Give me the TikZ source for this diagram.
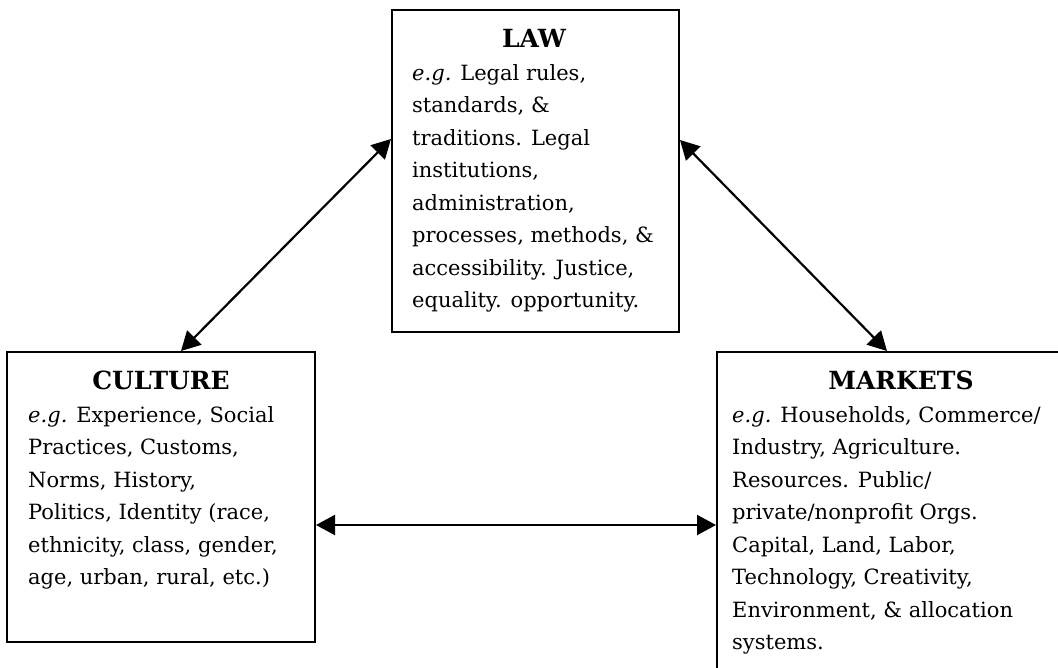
\documentclass[tikz,border=0pt]{standalone}
\usepackage{fontspec}
\setmainfont{DejaVu Serif}
\usetikzlibrary{arrows.meta}
\tikzset{
  boxnode/.style={draw, line width=2pt, rectangle, inner sep=0pt},
  titlenode/.style={anchor=base, inner sep=0pt, font=\fontsize{25}{32.5}\selectfont\bfseries},
  bodynode/.style={anchor=north west, inner sep=0pt, align=left, font=\fontsize{21}{32.5}\selectfont},
  arr/.style={line width=2.2pt, {Triangle[length=19pt,width=20pt]}-{Triangle[length=19pt,width=20pt]}}
}
\begin{document}
\begin{tikzpicture}[x=1pt,y=-1pt]
\clip (0,0) rectangle (1058,667);
\fill[white] (0,0) rectangle (1058,667);
% boxes
\node[boxnode, minimum width=287pt, minimum height=322pt] (law) at (535.5,171) {};
\node[boxnode, minimum width=308pt, minimum height=290pt] (culture) at (161,497) {};
\node[boxnode, minimum width=353pt, minimum height=338pt] (markets) at (893.5,521) {};
% titles
\node[titlenode] (lawt) at (534,47) {LAW};
\node[titlenode] (culturet) at (161,389) {CULTURE};
\node[titlenode] (marketst) at (901,389) {MARKETS};
% bodies
\node[bodynode] (lawb) at (412,57.25) {\strut\textit{e.g.} Legal rules,\\ standards, \&\\ traditions. Legal\\ institutions,\\ administration,\\ processes, methods, \&\\ accessibility. Justice,\\ equality. opportunity.};
\node[bodynode] (cultureb) at (28,399.25) {\strut\textit{e.g.} Experience, Social\\ Practices, Customs,\\ Norms, History,\\ Politics, Identity (race,\\ ethnicity, class, gender,\\ age, urban, rural, etc.)};
\node[bodynode] (marketsb) at (732,399.25) {\strut\textit{e.g.} Households, Commerce/\\ Industry, Agriculture.\\ Resources. Public/\\ private/nonprofit Orgs.\\ Capital, Land, Labor,\\ Technology, Creativity,\\ Environment, \& allocation\\ systems.};
% connectors
\draw[arr] ([yshift=-130pt]law.north west) -- ([xshift=175pt]culture.north west);
\draw[arr] ([yshift=-131pt]law.north east) -- ([xshift=171pt]markets.north west);
\draw[arr] ([yshift=-174pt]culture.north east) -- ([yshift=-174pt]markets.north west);
\end{tikzpicture}
\end{document}
